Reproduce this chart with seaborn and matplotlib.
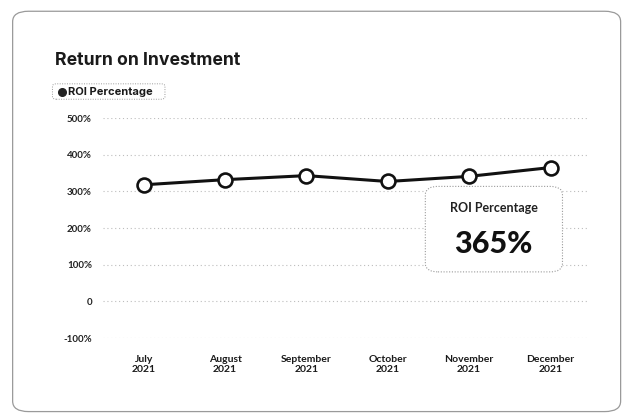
import matplotlib
matplotlib.use("Agg")
import matplotlib.pyplot as plt
import seaborn as sns
import pandas as pd
from matplotlib.patches import FancyBboxPatch
from matplotlib.lines import Line2D

months = ["July\n2021", "August\n2021", "September\n2021", "October\n2021", "November\n2021", "December\n2021"]
roi = [318, 332, 343, 327, 341, 365]
yticks = [-100, 0, 100, 200, 300, 400, 500]
ytick_labels = ["-100%", "0", "100%", "200%", "300%", "400%", "500%"]
title = "Return on Investment"
series_name = "ROI Percentage"
callout_value = "365%"

sns.set_theme(style="white")
plt.rcParams["font.family"] = ["Lato", "DejaVu Sans"]

df = pd.DataFrame({"month": months, "roi": roi, "x": range(len(months))})

fig = plt.figure(figsize=(6.32, 4.17), dpi=100)
fig.patch.set_facecolor("white")

# card border
card = FancyBboxPatch((0.020, 0.013), 0.962, 0.960, boxstyle="round,pad=0,rounding_size=0.025",
                      transform=fig.transFigure, facecolor="white", edgecolor="#9a9a9a",
                      linewidth=0.9, zorder=-5)
fig.patches.append(card)

ax = fig.add_axes([0.163, 0.189, 0.766, 0.528])
ax.set_facecolor("none")
sns.lineplot(data=df, x="x", y="roi", ax=ax, color="#111111", linewidth=2.2,
             marker="o", markersize=10, markerfacecolor="white", markeredgecolor="#111111",
             markeredgewidth=1.9, zorder=5)
ax.set_xlim(-0.5, 5.45)
ax.set_ylim(-100, 500)
ax.set_yticks(yticks)
ax.set_yticklabels(ytick_labels)
ax.set_xticks(range(len(months)))
ax.set_xticklabels(months)
ax.set_xlabel("")
ax.set_ylabel("")
for s in ax.spines.values():
    s.set_visible(False)
ax.grid(axis="y", color="#bdbdbd", linestyle=(0, (1, 2.5)), linewidth=0.8)
ax.tick_params(axis="y", length=0, pad=8, labelsize=7, colors="#222222")
ax.tick_params(axis="x", length=0, pad=12, labelsize=7.5, colors="#1a1a1a")
for lab in ax.get_xticklabels() + ax.get_yticklabels():
    lab.set_fontweight("bold")
for lab in ax.get_xticklabels():
    lab.set_linespacing(1.15)

# title
fig.text(0.087, 0.855, title, fontsize=12.7, fontweight="bold", color="#1a1a1a",
         family=["Inter", "DejaVu Sans"], va="center", ha="left")

# legend box
leg_box = FancyBboxPatch((0.083, 0.762), 0.178, 0.037, boxstyle="round,pad=0,rounding_size=0.006",
                         transform=fig.transFigure, facecolor="white", edgecolor="#9a9a9a",
                         linewidth=0.7, linestyle=(0, (1, 1.5)))
fig.patches.append(leg_box)
fig.lines.append(Line2D([0.098], [0.7805], marker="o", markersize=5.5, color="#222222",
                        transform=fig.transFigure))
fig.text(0.108, 0.7805, series_name, fontsize=8.0, fontweight="bold", color="#1a1a1a",
         family=["Inter", "DejaVu Sans"], va="center", ha="left")

# callout box
callout = FancyBboxPatch((0.673, 0.348), 0.217, 0.205, boxstyle="round,pad=0,rounding_size=0.02",
                         transform=fig.transFigure, facecolor="white", edgecolor="#9a9a9a",
                         linewidth=0.8, linestyle=(0, (1, 1.5)), zorder=10)
fig.patches.append(callout)
fig.text(0.781, 0.502, series_name, fontsize=9, fontweight="bold", color="#222222",
         va="center", ha="center", zorder=11)
fig.text(0.781, 0.415, callout_value, fontsize=22, fontweight="black", color="#111111",
         va="center", ha="center", zorder=11)

fig.savefig("out.png", dpi=100, facecolor="white")
